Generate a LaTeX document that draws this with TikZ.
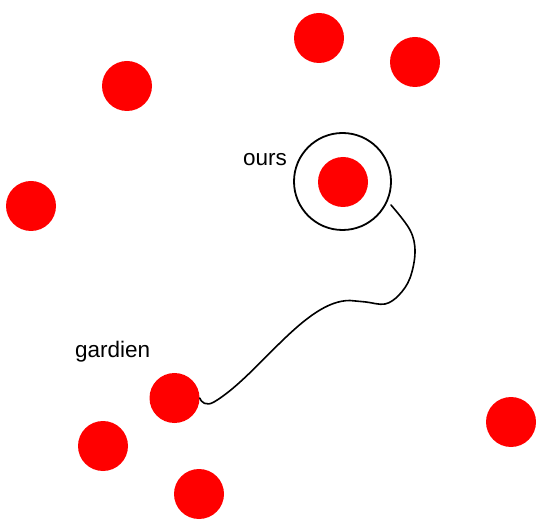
\documentclass[tikz,border=0pt]{standalone}
\usepackage{fontspec}
\setmainfont{Liberation Sans}
\begin{document}
\begin{tikzpicture}[x=1pt,y=-1pt,
  dot/.style={circle,fill=red,minimum size=50pt,inner sep=0pt},
  ring/.style={circle,draw=black,line width=1.8pt,minimum size=97pt,inner sep=0pt},
  lbl/.style={font=\fontsize{22.5}{27}\selectfont,inner sep=0pt,anchor=base west},
  link/.style={line width=1.6pt,line join=round,line cap=round}]
\useasboundingbox (0,0) rectangle (541,529);
\node[dot] (d1) at (319,38) {};
\node[dot] (d2) at (415,62) {};
\node[dot] (d3) at (127,86) {};
\node[dot] (bear) at (343,182) {};
\node[ring] (ring) at (342.5,181.5) {};
\node[dot] (d4) at (31,206) {};
\node[dot] (guard) at (174.5,398) {};
\node[dot] (d5) at (103,446) {};
\node[dot] (d6) at (511,422) {};
\node[dot] (d7) at (199,494) {};
\node[lbl] (lo) at (243,165.5) {ours};
\node[lbl] (lg) at (75,357.3) {gardien};
\coordinate (s) at (391,205);
\coordinate (m) at (350,300.5);
\draw[link] plot[smooth,tension=0.6] coordinates {(s) (410,230) (415,252) (410,278) (399,295) (385,304) (366,302) (m)}
  .. controls (305,300) and (258,376) .. (214,402)
  .. controls (206,406.7) and (201,402) .. (guard.east);
\end{tikzpicture}
\end{document}
